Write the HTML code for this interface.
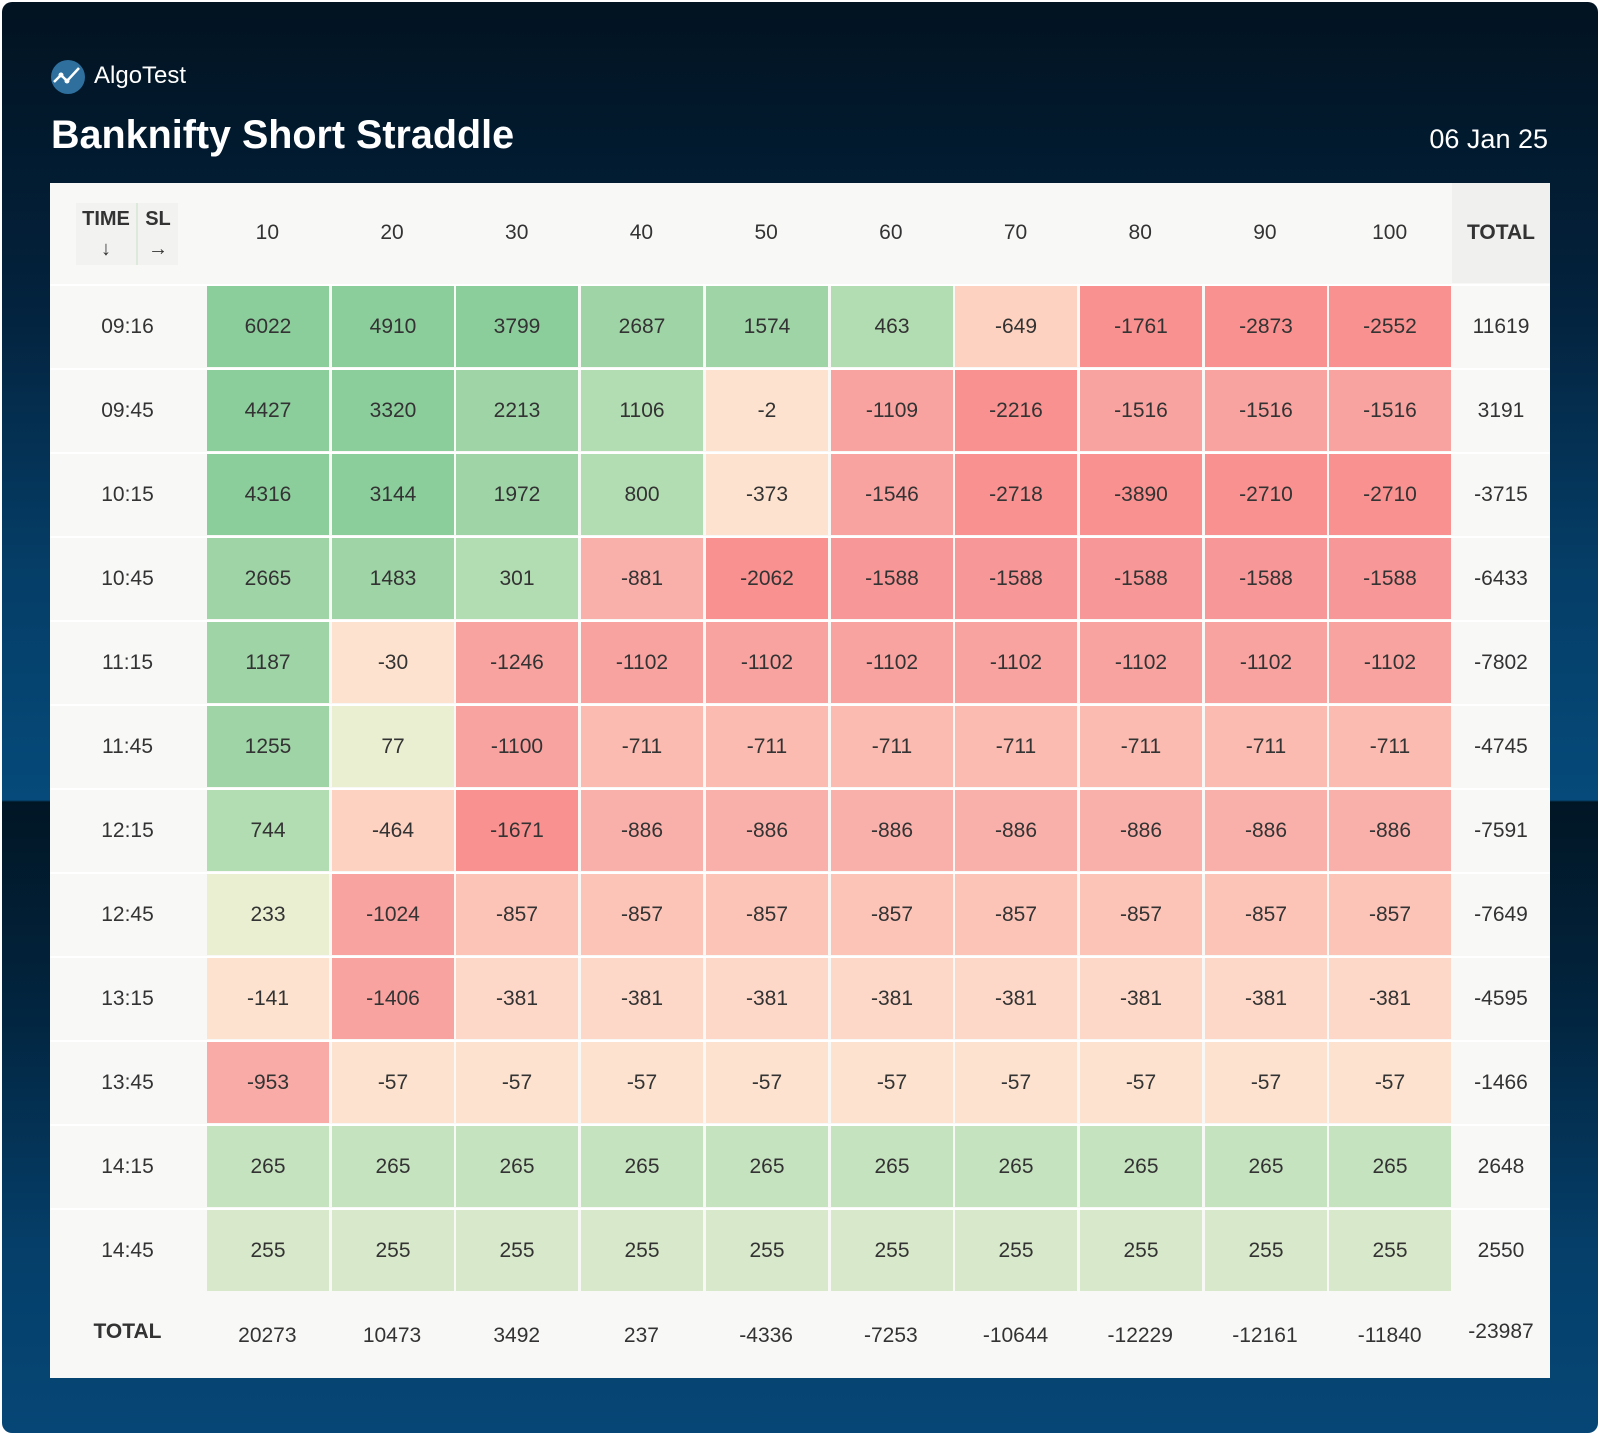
<!DOCTYPE html>
<html><head><meta charset="utf-8">
<style>
html,body{margin:0;padding:0;background:#fff;}
body{width:1600px;height:1436px;position:relative;overflow:hidden;font-family:"Liberation Sans",Arial,sans-serif;}
#card{position:absolute;left:2px;top:2px;width:1596px;height:1431px;border-radius:10px;overflow:hidden;
background:linear-gradient(180deg,#021321 0px,#03223d 300px,#053d66 560px,#054a7a 798px,#011625 800px,#02243e 1000px,#053f6a 1250px,#064676 1431px);}
.ttl{position:absolute;color:#fff;white-space:nowrap;}
#tbl{position:absolute;left:50px;top:183px;width:1500px;height:1195px;background:#f8f8f7;}
.c{position:absolute;display:flex;align-items:center;justify-content:center;font-size:21px;color:#333;}
</style></head><body>
<div id="card">
 <svg style="position:absolute;left:47px;top:56px" width="38" height="38" viewBox="0 0 38 38">
  <circle cx="19" cy="19" r="17" fill="#2e6f9e"/>
  <polyline points="5,24 12,17 18,23 30,10" fill="none" stroke="#fff" stroke-width="2.5"/>
  <circle cx="12" cy="17" r="2.5" fill="#fff"/><circle cx="18" cy="23" r="2.5" fill="#fff"/>
 </svg>
 <div class="ttl" style="left:92px;top:60px;font-size:24px;">AlgoTest</div>
 <div class="ttl" style="left:49px;top:111px;font-size:39.5px;font-weight:bold;">Banknifty Short Straddle</div>
 <div class="ttl" style="right:50px;top:122px;font-size:27px;">06 Jan 25</div>
</div>
<div id="tbl"></div>
<script>
var t=document.getElementById('tbl');
var times=["09:16","09:45","10:15","10:45","11:15","11:45","12:15","12:45","13:15","13:45","14:15","14:45"];
var d=[[6022,4910,3799,2687,1574,463,-649,-1761,-2873,-2552,11619],
[4427,3320,2213,1106,-2,-1109,-2216,-1516,-1516,-1516,3191],
[4316,3144,1972,800,-373,-1546,-2718,-3890,-2710,-2710,-3715],
[2665,1483,301,-881,-2062,-1588,-1588,-1588,-1588,-1588,-6433],
[1187,-30,-1246,-1102,-1102,-1102,-1102,-1102,-1102,-1102,-7802],
[1255,77,-1100,-711,-711,-711,-711,-711,-711,-711,-4745],
[744,-464,-1671,-886,-886,-886,-886,-886,-886,-886,-7591],
[233,-1024,-857,-857,-857,-857,-857,-857,-857,-857,-7649],
[-141,-1406,-381,-381,-381,-381,-381,-381,-381,-381,-4595],
[-953,-57,-57,-57,-57,-57,-57,-57,-57,-57,-1466],
[265,265,265,265,265,265,265,265,265,265,2648],
[255,255,255,255,255,255,255,255,255,255,2550]];
var tot=[20273,10473,3492,237,-4336,-7253,-10644,-12229,-12161,-11840,-23987];
function col(v){
 if(v>=3000)return"#8ccd9c";if(v>=1150)return"#9fd4a7";if(v>=290)return"#b2dcb2";
 if(v>=260)return"#c6e3c0";if(v>=240)return"#d8e8ca";if(v>0)return"#eaefd2";
 if(v>-375)return"#fde3cf";if(v>-400)return"#fdd8c8";if(v>-700)return"#fdd2c1";
 if(v>-800)return"#fbbbb1";if(v>-870)return"#fcc3b7";if(v>-900)return"#f9b0aa";
 if(v>-1000)return"#f9aca7";if(v>-1550)return"#f9a3a0";if(v>-1600)return"#f89797";return"#f8918f";}
function add(x,y,w,h,txt,bg,extra){var e=document.createElement('div');e.className='c';
 e.style.cssText+='left:'+x+'px;top:'+y+'px;width:'+w+'px;height:'+h+'px;'+(bg?'background:'+bg+';':'')+(extra||'');
 e.innerHTML=txt;t.appendChild(e);}
var X0=155,CW=124.7,Y0=103,RH=84;
// header
add(26,20,62,62,'<div style="text-align:center;line-height:30px"><b>TIME</b><br>↓</div>','#f2f2f0','border-right:2px solid #dbeadb;box-sizing:border-box;font-size:20px;');
add(88,20,40,62,'<div style="text-align:center;line-height:30px"><b>SL</b><br>→</div>','#f2f2f0','font-size:20px;');
for(var j=0;j<10;j++){add(X0+j*CW,0,CW,100,String((j+1)*10),null,'');}
add(X0+10*CW,0,1500-X0-10*CW,100,'<b>TOTAL</b>','#f0f0ee','');
for(var i=0;i<12;i++){var y=Y0+i*RH;
 add(0,y,X0,RH-3,times[i],null,'');
 for(var j=0;j<10;j++){add(Math.round(X0+2+j*CW),y,122,81,String(d[i][j]),col(d[i][j]),'');}
 add(X0+10*CW,y,1500-X0-10*CW,RH-3,String(d[i][10]),null,'');
 var s=document.createElement('div');s.style.cssText='position:absolute;left:0;top:'+(y-2)+'px;width:1500px;height:2px;background:#fff;';t.appendChild(s);
}
var yt=Y0+12*RH;
add(0,yt-4,X0,RH,'<b>TOTAL</b>',null,'');
for(var j=0;j<10;j++){add(X0+j*CW,yt,CW,RH,String(tot[j]),null,'');}
add(X0+10*CW,yt-4,1500-X0-10*CW,RH,String(tot[10]),null,'');
</script>
</body></html>
